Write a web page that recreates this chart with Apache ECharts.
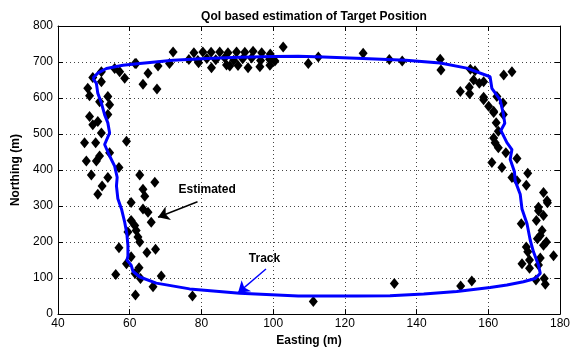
<!DOCTYPE html>
<html>
<head>
<meta charset="utf-8">
<script src="https://cdn.jsdelivr.net/npm/echarts@6/dist/echarts.min.js"></script>
<style>
  html, body { margin: 0; padding: 0; background: #fff; }
  #chart { width: 585px; height: 352px; }
</style>
</head>
<body>
<div id="chart"></div>
<script>
// Estimated target positions (Easting m, Northing m)
const estEasting = [
  // top edge
  72.1, 77.9, 80.4, 82.7, 85.1, 87.4, 89.8, 92.1, 94.4, 96.8, 99.2, 102.8,
  76.5, 79.0, 81.5, 84.0, 86.5, 89.0, 91.5, 94.0, 96.5, 99.0, 100.5,
  79.2, 82.8, 87.0, 87.9, 90.2, 93.0, 96.3, 99.1,
  109.8, 112.6, 125.1, 132.4, 136.0, 146.6, 146.8,
  // top-left corner
  71.1, 67.9, 65.1, 63.7, 67.6, 61.8, 61.5, 58.6, 57.2, 55.8, 52.1, 49.7, 52.1,
  48.3, 48.8, 53.9, 54.4,
  // left edge
  51.6, 53.9, 48.8, 49.7, 51.1, 52.1, 59.1, 47.4, 50.5, 54.4, 51.6, 50.7, 47.9,
  57.0, 49.3, 53.9, 62.8, 52.3, 67.0, 63.7, 64.2, 51.1, 60.4,
  // lower-left corner
  63.7, 65.1, 66.0, 60.4, 61.4, 61.8, 59.5, 62.3, 62.8, 57.0, 64.8, 67.2, 60.4,
  59.1, 62.6, 56.1, 61.5, 63.0, 68.8, 66.5, 61.6, 77.5,
  // bottom edge
  111.2, 133.8, 152.3, 155.4,
  // top-right corner
  155.0, 156.3, 155.9, 157.5, 158.7, 152.2, 154.8, 154.7, 158.7, 164.3, 166.6,
  160.1, 162.4, 164.1, 161.5,
  // right edge
  158.7, 161.5, 162.2, 164.2, 162.8, 161.5, 161.9, 162.8, 164.9, 168.0, 161.0,
  163.8, 166.6, 171.0, 170.6, 168.0, 175.4, 176.4, 174.0,
  // lower-right corner
  176.5, 174.0, 175.4, 173.4, 169.2, 175.0, 174.5, 173.7, 176.2, 175.4, 170.6,
  171.0, 178.2, 174.5, 171.5, 169.4, 171.5, 174.0, 173.3, 175.6, 175.9
];
const estNorthing = [
  728, 726, 728, 727, 728, 726, 728, 727, 730, 726, 722, 742,
  707, 704, 710, 706, 712, 705, 709, 711, 704, 708, 703,
  698, 684, 692, 689, 690, 684, 687, 691,
  696, 714, 724, 707, 703, 708, 678,
  696, 689, 669, 638, 625, 696, 696, 655, 673, 682, 673, 657, 645,
  627, 606, 604, 581,
  590, 554, 549, 526, 535, 503, 480, 476, 476, 448, 439, 425, 425,
  407, 386, 379, 386, 356, 366, 347, 327, 333, 310,
  292, 283, 255, 260, 246, 232, 228, 214, 200, 184, 171, 180, 159,
  140, 129, 110, 113, 99, 106, 76, 53, 50,
  35, 85, 78, 92,
  680, 676, 650, 641, 645, 618, 612, 630, 602, 664, 673,
  577, 604, 586, 563,
  595, 560, 531, 554, 508, 489, 476, 462, 448, 432, 421,
  407, 379, 391, 358, 370, 338, 315, 297,
  309, 287, 274, 260, 251, 232, 218, 209, 200, 191, 186,
  173, 162, 156, 150, 140, 127, 136, 95, 99, 83
];

// Reference track (closed loop, clockwise from the north-west corner)
const trackEasting = [
  49.7, 51.1, 53.5, 58.1, 62.8, 72.1, 81.4, 90.7, 100.0, 107.0, 114.0, 125.0,
  137.0, 146.6, 154.0, 160.5, 161.0, 163.3, 164.2, 164.6, 163.5, 165.2, 166.6,
  166.1, 167.3, 167.5, 168.9, 169.4, 170.8, 171.7, 172.6, 174.0, 174.5, 173.1,
  169.8, 165.2, 160.5, 151.2, 142.0, 132.6, 123.3, 107.0, 90.7, 76.7, 67.4,
  62.8, 60.9, 60.4, 59.2, 59.5, 59.5, 59.2, 58.6, 57.7, 56.7, 56.3, 56.5, 55.8,
  54.4, 53.0, 54.4, 53.9, 53.0, 52.1, 51.1, 50.7, 49.7
];
const trackNorthing = [
  655, 669, 682, 691, 696, 705, 710, 713, 715, 716, 714, 710,
  705, 697, 683, 659, 627, 595, 556, 530, 510, 476, 457,
  430, 395, 370, 333, 292, 251, 205, 173, 136, 113, 99,
  90, 81, 74, 63, 56, 51, 50, 50, 58, 70, 86,
  103, 119, 136, 150, 160, 191, 223, 255, 292, 320, 356, 380, 411,
  439, 471, 503, 531, 554, 586, 613, 641, 655
];

// Annotation text anchors and arrow ends, in data units
const estLabel = { text: 'Estimated', at: [81.6, 346] };
const estArrow = [[78.9, 312], [67.9, 269]];
const trackLabel = { text: 'Track', at: [97.6, 155] };
const trackArrow = [[98.0, 125], [90.2, 59]];

const xTicks = { min: 40, max: 180, interval: 20 };
const yTicks = { min: 0, max: 800, interval: 100 };

const estPoints = estEasting.map((x, i) => [x, estNorthing[i]]);
const trackPoints = trackEasting.map((x, i) => [x, trackNorthing[i]]);

const FONT = '"Liberation Sans", Arial, Helvetica, sans-serif';

const chart = echarts.init(document.getElementById('chart'), null, { renderer: 'canvas' });

const splitStyle = { show: true, lineStyle: { color: '#444', width: 1, type: [1, 3] } };
const axisLine = { show: true, onZero: false, lineStyle: { color: '#000', width: 1 } };
const tickIn = { show: true, inside: true, length: 5, lineStyle: { color: '#000' } };

chart.setOption({
  animation: false,
  backgroundColor: '#fff',
  title: {
    text: 'QoI based estimation of Target Position',
    left: 309, top: 6, textAlign: 'center',
    textStyle: { fontFamily: FONT, fontSize: 12, fontWeight: 'bold', color: '#000' }
  },
  grid: { left: 58, right: 25, top: 26, bottom: 36 },
  xAxis: [
    {
      type: 'value', min: xTicks.min, max: xTicks.max, interval: xTicks.interval,
      name: 'Easting (m)', nameLocation: 'middle', nameGap: 20,
      nameTextStyle: { fontFamily: FONT, fontSize: 12, fontWeight: 'bold', color: '#000' },
      axisLine, axisTick: tickIn, splitLine: splitStyle,
      axisLabel: { fontFamily: FONT, fontSize: 12, color: '#000', margin: 4 }
    },
    {
      type: 'value', position: 'top', min: xTicks.min, max: xTicks.max, interval: xTicks.interval,
      axisLine, axisTick: tickIn, splitLine: { show: false }, axisLabel: { show: false }
    }
  ],
  yAxis: [
    {
      type: 'value', min: yTicks.min, max: yTicks.max, interval: yTicks.interval,
      name: 'Northing (m)', nameLocation: 'middle', nameGap: 34, nameRotate: 90,
      nameTextStyle: { fontFamily: FONT, fontSize: 12, fontWeight: 'bold', color: '#000' },
      axisLine, axisTick: tickIn, splitLine: splitStyle,
      axisLabel: { fontFamily: FONT, fontSize: 12, color: '#000', margin: 5 }
    },
    {
      type: 'value', position: 'right', min: yTicks.min, max: yTicks.max, interval: yTicks.interval,
      axisLine, axisTick: tickIn, splitLine: { show: false }, axisLabel: { show: false }
    }
  ],
  series: [
    {
      name: 'Estimated',
      type: 'scatter',
      data: estPoints,
      symbol: 'diamond',
      symbolSize: [9, 11],
      itemStyle: { color: '#000', opacity: 1 },
      z: 2,
      markPoint: {
        symbol: 'circle', symbolSize: 0, silent: true,
        label: { show: true, position: 'inside', fontFamily: FONT, fontSize: 12, fontWeight: 'bold', color: '#000' },
        data: [
          { coord: estLabel.at, label: { formatter: estLabel.text } },
          { coord: trackLabel.at, label: { formatter: trackLabel.text } }
        ]
      },
      markLine: {
        silent: true, animation: false,
        symbol: ['none', 'arrow'], symbolSize: 11,
        label: { show: false },
        emphasis: { disabled: true },
        data: [
          [{ coord: estArrow[0], lineStyle: { color: '#000', width: 1.4, type: 'solid' }, itemStyle: { color: '#000' } },
           { coord: estArrow[1], itemStyle: { color: '#000' } }],
          [{ coord: trackArrow[0], lineStyle: { color: '#0000ff', width: 1.4, type: 'solid' }, itemStyle: { color: '#0000ff' } },
           { coord: trackArrow[1], itemStyle: { color: '#0000ff' } }]
        ]
      }
    },
    {
      name: 'Track',
      type: 'line',
      data: trackPoints,
      showSymbol: false,
      symbol: 'none',
      lineStyle: { color: '#0000ff', width: 3 },
      z: 3
    }
  ]
});
</script>
</body>
</html>
